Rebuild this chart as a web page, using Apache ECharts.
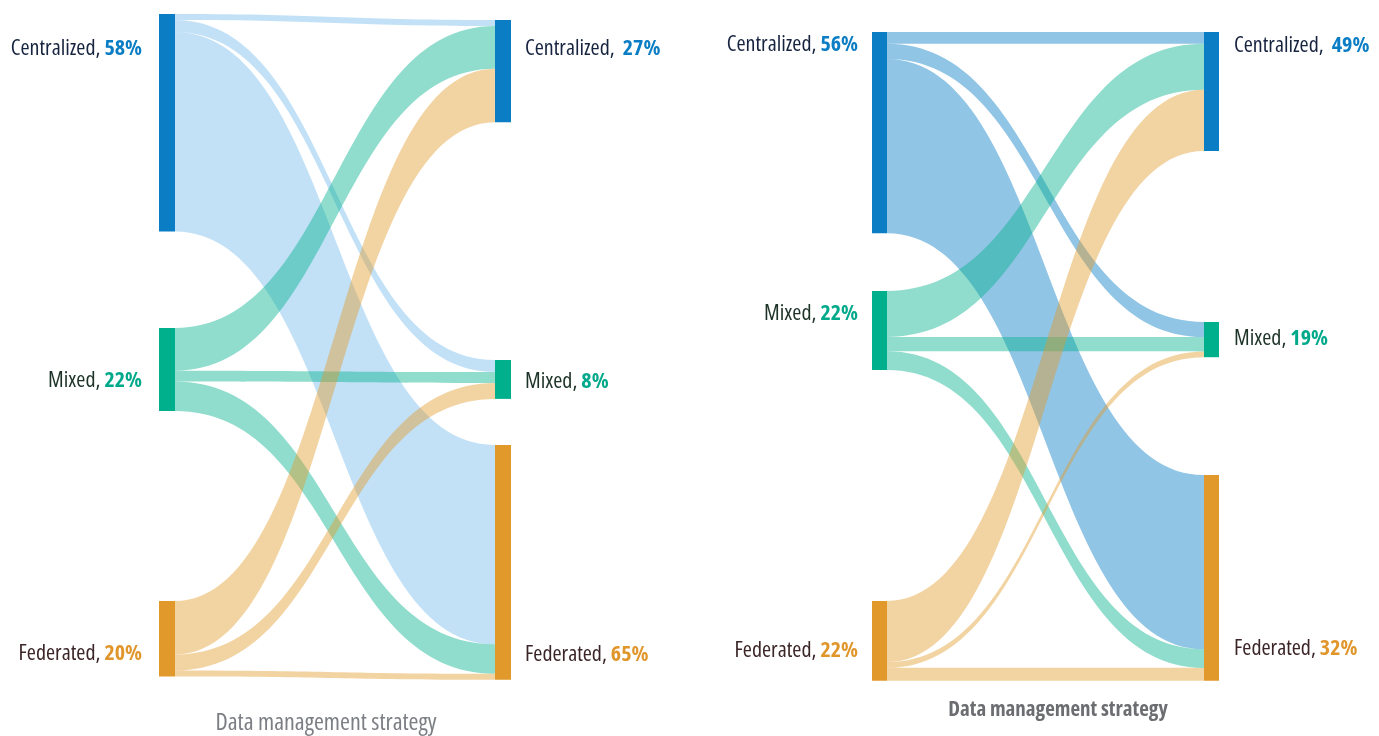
<!DOCTYPE html>
<html>
<head>
<meta charset="utf-8">
<script src="https://cdn.jsdelivr.net/npm/echarts@6/dist/echarts.min.js"></script>
<style>
html,body{margin:0;padding:0;background:#ffffff;}
#chart{width:1379px;height:736px;}
</style>
</head>
<body>
<div id="chart"></div>
<script>
// ---------- data ----------
const categories = ['Centralized', 'Mixed', 'Federated'];
const axisTitle = 'Data management strategy';

// Chart A (left)
const chartABefore = [58, 22, 20];
const chartAAfter = [27, 8, 65];
// flows[from][to], share in %
const chartAFlows = [
  [1.6, 3.2, 52.8],
  [11.3, 2.9, 7.8],
  [14.2, 4.2, 1.6]
];

// Chart B (right)
const chartBBefore = [56, 22, 22];
const chartBAfter = [49, 19, 32];
const chartBFlows = [
  [3.3, 4.2, 48.5],
  [12.8, 4.0, 5.2],
  [17.0, 1.6, 3.6]
];

// ---------- styles ----------
const FONT = "'Open Sans'";
const STRETCH = 'condensed';
const LABEL_SIZE = 22;
const nodeColors = ['#0a7dc4', '#00b08c', '#e0992a'];
const nameColors = ['#172440', '#1d3328', '#3b2527'];
const pctColors = ['#0a7dc4', '#00a98a', '#e0962b'];

function rich(i) {
  return {
    n: { color: nameColors[i], fontSize: LABEL_SIZE, fontFamily: FONT, fontStyle: STRETCH },
    v: { color: pctColors[i], fontSize: LABEL_SIZE, fontWeight: 'bold', fontFamily: FONT, fontStyle: STRETCH }
  };
}

function buildSeries(cfg) {
  const nodes = [];
  const links = [];
  categories.forEach(function (c, i) {
    nodes.push({
      name: 'before-' + c,
      localY: (cfg.leftTops[i] - cfg.top) / cfg.height,
      itemStyle: { color: nodeColors[i], borderWidth: 0 },
      label: {
        show: true,
        position: [-cfg.leftGap, cfg.leftLabelY[i] - cfg.leftTops[i]],
        align: 'right',
        verticalAlign: 'middle',
        formatter: '{n|' + c + ', }{v|' + cfg.before[i] + '%}',
        rich: rich(i)
      }
    });
  });
  categories.forEach(function (c, i) {
    nodes.push({
      name: 'after-' + c,
      localY: (cfg.rightTops[i] - cfg.top) / cfg.height,
      itemStyle: { color: nodeColors[i], borderWidth: 0 },
      label: {
        show: true,
        position: [cfg.nodeWidth + cfg.rightGap, cfg.rightLabelY[i] - cfg.rightTops[i]],
        align: 'left',
        verticalAlign: 'middle',
        formatter: '{n|' + c + ',' + cfg.afterSep[i] + '}{v|' + cfg.after[i] + '%}',
        rich: rich(i)
      }
    });
  });
  cfg.flows.forEach(function (row, i) {
    row.forEach(function (v, j) {
      links.push({
        source: 'before-' + categories[i],
        target: 'after-' + categories[j],
        value: v,
        lineStyle: { color: cfg.linkColors[i], opacity: cfg.linkOpacity[i], curveness: 0.5 }
      });
    });
  });
  return {
    type: 'sankey',
    left: cfg.left,
    top: cfg.top,
    width: cfg.width,
    height: cfg.height,
    nodeWidth: cfg.nodeWidth,
    nodeGap: cfg.nodeGap,
    layoutIterations: 0,
    draggable: false,
    silent: true,
    emphasis: { disabled: true },
    itemStyle: { borderWidth: 0 },
    lineStyle: { curveness: 0.5 },
    label: { fontFamily: FONT },
    data: nodes,
    links: links
  };
}

const seriesA = buildSeries({
  left: 159, top: 14, width: 352, height: 661,
  nodeWidth: 16, nodeGap: 142.5,
  before: chartABefore, after: chartAAfter, flows: chartAFlows,
  leftTops: [14, 328, 601], rightTops: [20, 360, 445],
  leftLabelY: [49, 381, 654], rightLabelY: [49, 382, 655],
  leftGap: 17, rightGap: 14, afterSep: ['  ', ' ', ' '],
  linkColors: ['#5aaee8', '#00b08c', '#e0992a'],
  linkOpacity: [0.37, 0.435, 0.435]
});

const seriesB = buildSeries({
  left: 872, top: 32, width: 347, height: 649,
  nodeWidth: 15, nodeGap: 144.5,
  before: chartBBefore, after: chartBAfter, flows: chartBFlows,
  leftTops: [32, 291, 601], rightTops: [32, 322, 475],
  leftLabelY: [45, 314, 651], rightLabelY: [46, 339, 649],
  leftGap: 14, rightGap: 15, afterSep: ['  ', ' ', ' '],
  linkColors: ['#0a7ec5', '#00b08c', '#e0992a'],
  linkOpacity: [0.45, 0.435, 0.435]
});

const chart = echarts.init(document.getElementById('chart'), null, { renderer: 'canvas' });
chart.setOption({
  animation: false,
  backgroundColor: '#ffffff',
  title: [
    {
      text: axisTitle, left: 326, top: 711, textAlign: 'center', padding: 0,
      textStyle: { color: '#7b7e83', fontSize: 24, fontWeight: 'normal', fontFamily: FONT, fontStyle: STRETCH }
    },
    {
      text: axisTitle, left: 1058, top: 700, textAlign: 'center', padding: 0,
      textStyle: { color: '#6b6d70', fontSize: 21, fontWeight: 'bold', fontFamily: FONT, fontStyle: STRETCH }
    }
  ],
  series: [seriesA, seriesB]
});
</script>
</body>
</html>
